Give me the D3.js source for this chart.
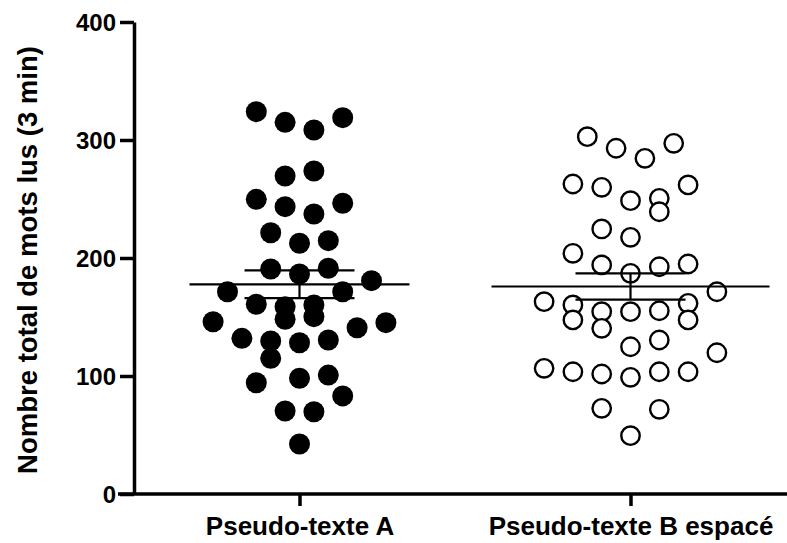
<!DOCTYPE html>
<html>
<head>
<meta charset="utf-8">
<script src="https://cdn.jsdelivr.net/npm/d3@7/dist/d3.min.js"></script>
<style>
  html, body { margin: 0; padding: 0; background: #fff; }
  svg { display: block; }
  text { font-family: "Liberation Sans", Arial, sans-serif; font-weight: bold; fill: #000; }
</style>
</head>
<body>
<svg id="chart" width="787" height="543"></svg>
<script>
// ---- data ----
const categories = ["Pseudo-texte A", "Pseudo-texte B espacé"];
const yTicks = [0, 100, 200, 300, 400];
const yLabel = "Nombre total de mots lus (3 min)";

const valuesA = [324.0, 315.0, 308.5, 318.9, 269.5, 273.7, 249.7, 243.5, 237.3, 246.4,
  221.4, 212.5, 214.7, 190.7, 186.4, 191.3, 180.8, 171.4, 171.4, 160.8,
  158.7, 160.2, 148.1, 150.3, 146.0, 140.9, 145.2, 131.9, 129.7, 128.2,
  130.5, 115.0, 94.3, 98.1, 100.8, 83.1, 70.3, 69.7, 42.4];
const slotsA = [-3, -1, 1, 3, -1, 1, -3, -1, 1, 3,
  -2, 0, 2, -2, 0, 2, 5, -5, 3, -3,
  -1, 1, -1, 1, -6, 4, 6, -4, -2, 0,
  2, -2, -3, 0, 2, 3, -1, 1, 0];

const valuesB = [302.8, 293.0, 284.5, 297.2, 262.7, 259.9, 248.6, 250.6, 239.2, 261.9,
  224.6, 217.5, 204.0, 194.1, 192.6, 194.9, 187.0, 171.4, 163.0, 160.2,
  147.5, 154.5, 140.4, 154.5, 155.3, 161.6, 147.5, 124.8, 130.5, 119.7,
  106.5, 103.6, 101.7, 98.9, 103.6, 103.6, 72.6, 71.8, 49.4];
const slotsB = [-3, -1, 1, 3, -4, -2, 0, 2, 2, 4,
  -2, 0, -4, -2, 2, 4, 0, 6, -6, -4,
  -4, -2, -2, 0, 2, 4, 4, 0, 2, 6,
  -6, -4, -2, 0, 2, 4, -2, 2, 0];

const groups = [
  { name: categories[0], values: valuesA, slots: slotsA, filled: true, meanHalf: 110 },
  { name: categories[1], values: valuesB, slots: slotsB, filled: false, meanHalf: 139 }
];

// ---- layout ----
const svg = d3.select("#chart");
const axisX = 134, axisY = 494;

const y = d3.scaleLinear().domain([0, 400]).range([494, 22]);
const x = d3.scalePoint().domain(categories).range([axisX, 796]).padding(0.5);
const slot = d3.scaleLinear().domain([-6, 6]).range([-86.4, 86.4]);

// y axis
const yAxis = svg.append("g")
  .attr("transform", `translate(${axisX},0)`)
  .call(d3.axisLeft(y).tickValues(yTicks).tickSize(14).tickSizeOuter(0).tickPadding(4));
yAxis.select(".domain").attr("stroke", "#000").attr("stroke-width", 3.5);
yAxis.selectAll(".tick line").attr("stroke", "#000").attr("stroke-width", 3.5);
yAxis.selectAll(".tick text").style("font-size", "24px").attr("dy", "0.36em");

// x axis
const xAxis = svg.append("g")
  .attr("transform", `translate(0,${axisY})`)
  .call(d3.axisBottom(x).tickSize(12).tickSizeOuter(0).tickPadding(9));
xAxis.select(".domain").attr("stroke", "#000").attr("stroke-width", 3.5)
  .attr("d", `M${axisX - 16},0H787`);
xAxis.selectAll(".tick line").attr("stroke", "#000").attr("stroke-width", 3.5);
xAxis.selectAll(".tick text").style("font-size", "26px").attr("dy", "0.75em");

// y label
svg.append("text")
  .attr("transform", `translate(37,260) rotate(-90)`)
  .attr("text-anchor", "middle")
  .style("font-size", "27.5px")
  .text(yLabel);

// points
groups.forEach(g => {
  const cx = x(g.name);
  const pts = g.values.map((v, i) => ({ v, s: g.slots[i] }));
  svg.append("g").selectAll("circle").data(pts).join("circle")
    .attr("cx", d => cx + slot(d.s))
    .attr("cy", d => y(d.v))
    .attr("r", g.filled ? 10.5 : 9.2)
    .attr("fill", g.filled ? "#000" : "#fff")
    .attr("stroke", "#000")
    .attr("stroke-width", g.filled ? 0 : 2.4);

  const mean = d3.mean(g.values);
  const sem = d3.deviation(g.values) / Math.sqrt(g.values.length);
  const lg = svg.append("g").attr("stroke", "#000").attr("stroke-width", 2.2);
  lg.append("line").attr("x1", cx - g.meanHalf).attr("x2", cx + g.meanHalf).attr("y1", y(mean)).attr("y2", y(mean));
  [mean - sem, mean + sem].forEach(v => {
    lg.append("line").attr("x1", cx - 55).attr("x2", cx + 55).attr("y1", y(v)).attr("y2", y(v));
  });
  lg.append("line").attr("x1", cx).attr("x2", cx).attr("y1", y(mean - sem)).attr("y2", y(mean + sem));
});
</script>
</body>
</html>
